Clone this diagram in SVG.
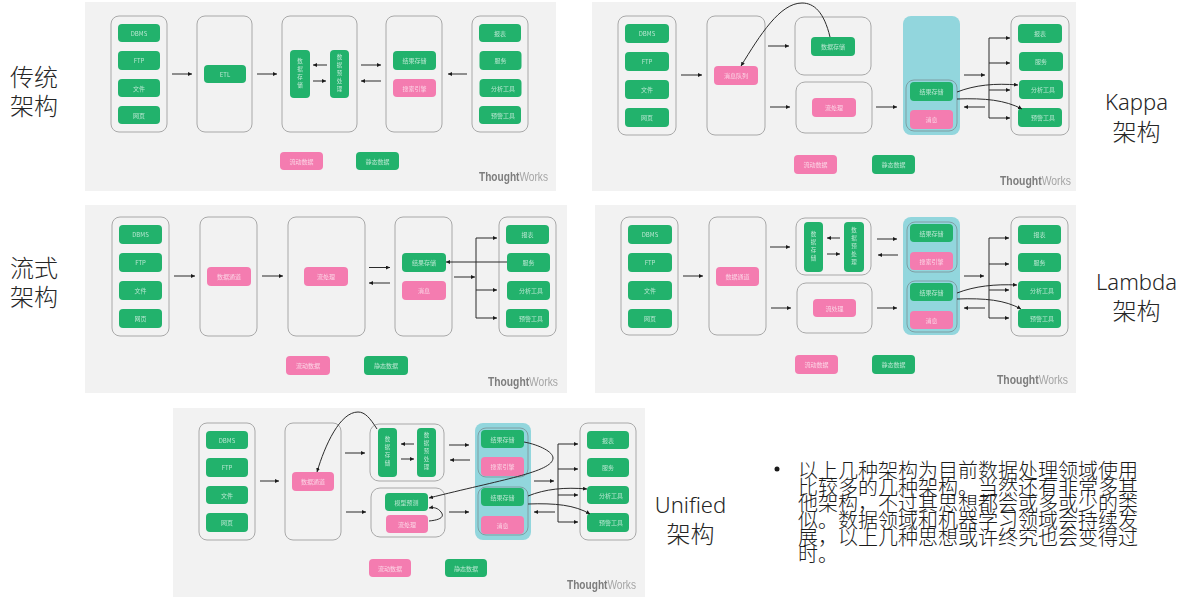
<svg xmlns="http://www.w3.org/2000/svg" width="1184" height="604" viewBox="0 0 1184 604">
<style>
text{font-family:"Noto Sans CJK SC","Liberation Sans",sans-serif}
.bg{fill:#f2f2f2}
.box{fill:#f2f2f2;stroke:#a8a8a8;stroke-width:1}
.teal{fill:#92d6dd}
.inner{fill:none;stroke:#7f9ea3;stroke-width:1}
.g{fill:#21b26c}
.p{fill:#f47cb0}
.pn{filter:url(#soft)}
.t{font-size:6px;fill:#fff;fill-opacity:.68;text-anchor:middle;dominant-baseline:central}
.v{font-size:5.5px;fill:#fff;fill-opacity:.72;writing-mode:vertical-rl;text-anchor:middle;letter-spacing:2.5px}
.big{font-size:24px;fill:#262626;text-anchor:middle;dominant-baseline:central;font-weight:300}
.lat{font-family:"Noto Sans","Liberation Sans",sans-serif;font-size:22px;fill:#262626;text-anchor:middle;dominant-baseline:central;font-weight:300}
.body{font-size:20px;fill:#1a1a1a;font-weight:300}
.tw{font-family:"Liberation Sans",sans-serif;font-size:12.5px;font-weight:700;fill:#7d7d7d}
.tw tspan{font-weight:400;fill:#a5a5a5}
#connectors path{fill:none;stroke:#2b2b2b;stroke-width:1}
#connectors .a{marker-end:url(#ah)}
</style>
<defs><filter id="soft" x="-2%" y="-2%" width="104%" height="104%"><feGaussianBlur stdDeviation="0.35"/></filter><marker id="ah" markerWidth="5" markerHeight="5" refX="4" refY="2" orient="auto" markerUnits="userSpaceOnUse"><path d="M0 0L4 2L0 4Z" fill="#1a1a1a"/></marker></defs>
<rect width="1184" height="604" fill="#fff"/>
<rect class="bg" x="85" y="2" width="471" height="189"/>
<rect class="bg" x="592" y="2" width="484" height="189"/>
<rect class="bg" x="85" y="205" width="482" height="188"/>
<rect class="bg" x="595" y="205" width="481" height="188"/>
<rect class="bg" x="173" y="408" width="472" height="189"/>

<g id="p1" class="pn">
<g id="p1-src"><rect class="box" x="111" y="16" width="56" height="116" rx="8"/></g>
<g id="p1-etlbox"><rect class="box" x="197" y="16" width="55" height="116" rx="8"/></g>
<g id="p1-proc"><rect class="box" x="282" y="16" width="75" height="116" rx="8"/></g>
<g id="p1-res"><rect class="box" x="386" y="16" width="56" height="116" rx="8"/></g>
<g id="p1-out"><rect class="box" x="472" y="16" width="56" height="116" rx="8"/></g>
<g id="p1-dbms"><rect class="g" x="118" y="24" width="42" height="18" rx="4"/><text class="t" x="139" y="33" >DBMS</text></g>
<g id="p1-ftp"><rect class="g" x="118" y="51" width="42" height="19" rx="4"/><text class="t" x="139" y="60.500">FTP</text></g>
<g id="p1-file"><rect class="g" x="118" y="79" width="42" height="18" rx="4"/><text class="t" x="139" y="88">文件</text></g>
<g id="p1-web"><rect class="g" x="118" y="106" width="42" height="18" rx="4"/><text class="t" x="139" y="115">网页</text></g>
<g id="p1-etl"><rect class="g" x="204" y="65" width="42" height="18" rx="4"/><text class="t" x="225" y="74">ETL</text></g>
<g id="p1-store"><rect class="g" x="290" y="50" width="20" height="48" rx="4"/><text class="v" x="300" y="74">数据存储</text></g>
<g id="p1-pre"><rect class="g" x="330" y="50" width="19" height="48" rx="4"/><text class="v" x="339.500" y="74">数据预处理</text></g>
<g id="p1-result"><rect class="g" x="393" y="51" width="43" height="19" rx="4"/><text class="t" x="414.500" y="60.500">结果存储</text></g>
<g id="p1-search"><rect class="p" x="393" y="79" width="43" height="18" rx="4"/><text class="t" x="414.500" y="88">搜索引擎</text></g>
<g id="p1-report"><rect class="g" x="479" y="24" width="42" height="18" rx="4"/><text class="t" x="500" y="33">报表</text></g>
<g id="p1-service"><rect class="g" x="479.500" y="51" width="42" height="19" rx="4"/><text class="t" x="500.500" y="60.500">服务</text></g>
<g id="p1-analysis"><rect class="g" x="479.500" y="79" width="42" height="18" rx="4"/><text class="t" x="503" y="88">分析工具</text></g>
<g id="p1-alert"><rect class="g" x="479" y="106" width="42" height="18" rx="4"/><text class="t" x="503" y="115">预警工具</text></g>
<g id="p1-flow"><rect class="p" x="280" y="152" width="43" height="18" rx="4"/><text class="t" x="301.500" y="161">流动数据</text></g>
<g id="p1-static"><rect class="g" x="356" y="152" width="43" height="18" rx="4"/><text class="t" x="377.500" y="161">静态数据</text></g>
<text class="tw" x="479" y="181" textLength="69" lengthAdjust="spacingAndGlyphs">Thought<tspan>Works</tspan></text>
</g>

<g id="p2" class="pn">
<g id="p2-src"><rect class="box" x="618" y="16" width="58" height="119" rx="8"/></g>
<g id="p2-queuebox"><rect class="box" x="707" y="16" width="58" height="119" rx="8"/></g>
<g id="p2-storebox"><rect class="box" x="795" y="17" width="76" height="58" rx="9"/></g>
<g id="p2-streambox"><rect class="box" x="796" y="82" width="76" height="51" rx="9"/></g>
<g id="p2-teal"><rect class="teal" x="903" y="16" width="57" height="119" rx="8"/><rect class="inner" x="906" y="80" width="51" height="51" rx="8"/></g>
<g id="p2-out"><rect class="box" x="1011" y="16" width="58" height="119" rx="8"/></g>
<g id="p2-dbms"><rect class="g" x="625" y="24" width="44" height="19" rx="4"/><text class="t" x="647" y="33.500">DBMS</text></g>
<g id="p2-ftp"><rect class="g" x="625" y="52" width="44" height="19" rx="4"/><text class="t" x="647" y="61.500">FTP</text></g>
<g id="p2-file"><rect class="g" x="625" y="80" width="44" height="19" rx="4"/><text class="t" x="647" y="89.500">文件</text></g>
<g id="p2-web"><rect class="g" x="625" y="108" width="44" height="19" rx="4"/><text class="t" x="647" y="117.500">网页</text></g>
<g id="p2-queue"><rect class="p" x="714" y="66" width="44" height="19" rx="4"/><text class="t" x="736" y="75.500">消息队列</text></g>
<g id="p2-store"><rect class="g" x="811" y="37" width="44" height="19" rx="4"/><text class="t" x="833" y="46.500">数据存储</text></g>
<g id="p2-stream"><rect class="p" x="812" y="98" width="44" height="19" rx="4"/><text class="t" x="834" y="107.500">流处理</text></g>
<g id="p2-result"><rect class="g" x="910" y="82" width="43" height="19" rx="4"/><text class="t" x="931.500" y="91.500">结果存储</text></g>
<g id="p2-msg"><rect class="p" x="910" y="110" width="43" height="19" rx="4"/><text class="t" x="931.500" y="119.500">消息</text></g>
<g id="p2-report"><rect class="g" x="1018" y="24" width="44" height="19" rx="4"/><text class="t" x="1040" y="33.500">报表</text></g>
<g id="p2-service"><rect class="g" x="1019" y="52" width="44" height="19" rx="4"/><text class="t" x="1041" y="61.500">服务</text></g>
<g id="p2-analysis"><rect class="g" x="1019" y="80" width="44" height="19" rx="4"/><text class="t" x="1043" y="89.500">分析工具</text></g>
<g id="p2-alert"><rect class="g" x="1018" y="108" width="44" height="19" rx="4"/><text class="t" x="1043" y="117.500">预警工具</text></g>
<g id="p2-flow"><rect class="p" x="794" y="155" width="43" height="19" rx="4"/><text class="t" x="815.500" y="164.500">流动数据</text></g>
<g id="p2-static"><rect class="g" x="872" y="155" width="43" height="19" rx="4"/><text class="t" x="893.500" y="164.500">静态数据</text></g>
<text class="tw" x="1000" y="185" textLength="71" lengthAdjust="spacingAndGlyphs">Thought<tspan>Works</tspan></text>
</g>

<g id="p3" class="pn">
<g id="p3-src"><rect class="box" x="112" y="217" width="57" height="119" rx="8"/></g>
<g id="p3-chanbox"><rect class="box" x="200" y="217" width="57" height="119" rx="8"/></g>
<g id="p3-streambox"><rect class="box" x="288" y="217" width="77" height="119" rx="8"/></g>
<g id="p3-res"><rect class="box" x="395" y="217" width="57" height="119" rx="8"/></g>
<g id="p3-out"><rect class="box" x="499" y="217" width="57" height="119" rx="8"/></g>
<g id="p3-dbms"><rect class="g" x="119" y="225" width="43" height="19" rx="4"/><text class="t" x="140.500" y="234.500">DBMS</text></g>
<g id="p3-ftp"><rect class="g" x="119" y="253" width="43" height="19" rx="4"/><text class="t" x="140.500" y="262.500">FTP</text></g>
<g id="p3-file"><rect class="g" x="119" y="281" width="43" height="19" rx="4"/><text class="t" x="140.500" y="290.500">文件</text></g>
<g id="p3-web"><rect class="g" x="119" y="309" width="43" height="19" rx="4"/><text class="t" x="140.500" y="318.500">网页</text></g>
<g id="p3-chan"><rect class="p" x="207" y="267" width="44" height="19" rx="4"/><text class="t" x="229" y="276.500">数据通道</text></g>
<g id="p3-stream"><rect class="p" x="304" y="267" width="44" height="19" rx="4"/><text class="t" x="326" y="276.500">流处理</text></g>
<g id="p3-result"><rect class="g" x="402" y="253" width="44" height="19" rx="4"/><text class="t" x="424" y="262.500">结果存储</text></g>
<g id="p3-msg"><rect class="p" x="402" y="281" width="44" height="19" rx="4"/><text class="t" x="424" y="290.500">消息</text></g>
<g id="p3-report"><rect class="g" x="506" y="225" width="43" height="19" rx="4"/><text class="t" x="527.500" y="234.500">报表</text></g>
<g id="p3-service"><rect class="g" x="507" y="253" width="43" height="19" rx="4"/><text class="t" x="528.500" y="262.500">服务</text></g>
<g id="p3-analysis"><rect class="g" x="507" y="281" width="43" height="19" rx="4"/><text class="t" x="531" y="290.500">分析工具</text></g>
<g id="p3-alert"><rect class="g" x="506" y="309" width="43" height="19" rx="4"/><text class="t" x="531" y="318.500">预警工具</text></g>
<g id="p3-flow"><rect class="p" x="286" y="356" width="44" height="19" rx="4"/><text class="t" x="308" y="365.500">流动数据</text></g>
<g id="p3-static"><rect class="g" x="364" y="356" width="44" height="19" rx="4"/><text class="t" x="386" y="365.500">静态数据</text></g>
<text class="tw" x="488" y="386" textLength="70" lengthAdjust="spacingAndGlyphs">Thought<tspan>Works</tspan></text>
</g>

<g id="p4" class="pn">
<g id="p4-src"><rect class="box" x="621" y="217" width="57" height="118" rx="8"/></g>
<g id="p4-chanbox"><rect class="box" x="709" y="217" width="57" height="118" rx="8"/></g>
<g id="p4-batchbox"><rect class="box" x="796" y="218" width="75" height="57" rx="9"/></g>
<g id="p4-streambox"><rect class="box" x="797" y="283" width="75" height="50" rx="9"/></g>
<g id="p4-teal"><rect class="teal" x="903" y="217" width="57" height="118" rx="8"/><rect class="inner" x="907" y="222" width="50" height="50" rx="8"/><rect class="inner" x="907" y="281" width="50" height="51" rx="8"/></g>
<g id="p4-out"><rect class="box" x="1011" y="217" width="57" height="119" rx="8"/></g>
<g id="p4-dbms"><rect class="g" x="628" y="225" width="44" height="19" rx="4"/><text class="t" x="650" y="234.500">DBMS</text></g>
<g id="p4-ftp"><rect class="g" x="628" y="253" width="44" height="19" rx="4"/><text class="t" x="650" y="262.500">FTP</text></g>
<g id="p4-file"><rect class="g" x="628" y="281" width="44" height="19" rx="4"/><text class="t" x="650" y="290.500">文件</text></g>
<g id="p4-web"><rect class="g" x="628" y="309" width="44" height="19" rx="4"/><text class="t" x="650" y="318.500">网页</text></g>
<g id="p4-chan"><rect class="p" x="716" y="267" width="43" height="19" rx="4"/><text class="t" x="737.500" y="276.500">数据通道</text></g>
<g id="p4-store"><rect class="g" x="804" y="222" width="19" height="50" rx="4"/><text class="v" x="813.500" y="247">数据存储</text></g>
<g id="p4-pre"><rect class="g" x="844" y="222" width="20" height="50" rx="4"/><text class="v" x="854" y="247">数据预处理</text></g>
<g id="p4-stream"><rect class="p" x="813" y="299" width="43" height="18" rx="4"/><text class="t" x="834.500" y="308">流处理</text></g>
<g id="p4-result1"><rect class="g" x="910" y="224" width="43" height="18" rx="4"/><text class="t" x="931.500" y="233">结果存储</text></g>
<g id="p4-search"><rect class="p" x="910" y="252" width="43" height="18" rx="4"/><text class="t" x="931.500" y="261">搜索引擎</text></g>
<g id="p4-result2"><rect class="g" x="910" y="283" width="43" height="18" rx="4"/><text class="t" x="931.500" y="292">结果存储</text></g>
<g id="p4-msg"><rect class="p" x="910" y="311" width="43" height="18" rx="4"/><text class="t" x="931.500" y="320">消息</text></g>
<g id="p4-report"><rect class="g" x="1018" y="225" width="43" height="19" rx="4"/><text class="t" x="1039.500" y="234.500">报表</text></g>
<g id="p4-service"><rect class="g" x="1018" y="253" width="43" height="19" rx="4"/><text class="t" x="1039.500" y="262.500">服务</text></g>
<g id="p4-analysis"><rect class="g" x="1018" y="281" width="43" height="19" rx="4"/><text class="t" x="1042" y="290.500">分析工具</text></g>
<g id="p4-alert"><rect class="g" x="1018" y="309" width="43" height="19" rx="4"/><text class="t" x="1042" y="318.500">预警工具</text></g>
<g id="p4-flow"><rect class="p" x="795" y="355" width="43" height="19" rx="4"/><text class="t" x="816.500" y="364.500">流动数据</text></g>
<g id="p4-static"><rect class="g" x="872" y="355" width="43" height="19" rx="4"/><text class="t" x="893.500" y="364.500">静态数据</text></g>
<text class="tw" x="997" y="384" textLength="71" lengthAdjust="spacingAndGlyphs">Thought<tspan>Works</tspan></text>
</g>

<g id="p5" class="pn">
<g id="p5-src"><rect class="box" x="199" y="423" width="56" height="117" rx="8"/></g>
<g id="p5-chanbox"><rect class="box" x="285" y="423" width="56" height="117" rx="8"/></g>
<g id="p5-batchbox"><rect class="box" x="370" y="424" width="74" height="57" rx="9"/></g>
<g id="p5-streambox"><rect class="box" x="371" y="488" width="74" height="49" rx="9"/></g>
<g id="p5-teal"><rect class="teal" x="475" y="423" width="56" height="117" rx="8"/><rect class="inner" x="478" y="428" width="50" height="49" rx="8"/><rect class="inner" x="478" y="487" width="50" height="48" rx="8"/></g>
<g id="p5-out"><rect class="box" x="580" y="423" width="56" height="117" rx="8"/></g>
<g id="p5-dbms"><rect class="g" x="206" y="431" width="42" height="18" rx="4"/><text class="t" x="227" y="440">DBMS</text></g>
<g id="p5-ftp"><rect class="g" x="206" y="458" width="42" height="19" rx="4"/><text class="t" x="227" y="467.500">FTP</text></g>
<g id="p5-file"><rect class="g" x="206" y="486" width="42" height="18" rx="4"/><text class="t" x="227" y="495">文件</text></g>
<g id="p5-web"><rect class="g" x="206" y="513" width="42" height="19" rx="4"/><text class="t" x="227" y="522.500">网页</text></g>
<g id="p5-chan"><rect class="p" x="292" y="472" width="42" height="19" rx="4"/><text class="t" x="313" y="481.500">数据通道</text></g>
<g id="p5-store"><rect class="g" x="378" y="428" width="19" height="49" rx="4"/><text class="v" x="387.500" y="452.500">数据存储</text></g>
<g id="p5-pre"><rect class="g" x="417" y="428" width="19" height="49" rx="4"/><text class="v" x="426.500" y="452.500">数据预处理</text></g>
<g id="p5-model"><rect class="g" x="385" y="493" width="43" height="18" rx="4"/><text class="t" x="406.500" y="502">模型预测</text></g>
<g id="p5-stream"><rect class="p" x="386" y="515" width="42" height="18" rx="4"/><text class="t" x="407" y="524">流处理</text></g>
<g id="p5-result1"><rect class="g" x="481" y="430" width="43" height="18" rx="4"/><text class="t" x="502.500" y="439">结果存储</text></g>
<g id="p5-search"><rect class="p" x="481" y="457" width="43" height="19" rx="4"/><text class="t" x="502.500" y="466.500">搜索引擎</text></g>
<g id="p5-result2"><rect class="g" x="481" y="488" width="43" height="18" rx="4"/><text class="t" x="502.500" y="497">结果存储</text></g>
<g id="p5-msg"><rect class="p" x="481" y="516" width="43" height="18" rx="4"/><text class="t" x="502.500" y="525">消息</text></g>
<g id="p5-report"><rect class="g" x="587" y="431" width="42" height="18" rx="4"/><text class="t" x="608" y="440">报表</text></g>
<g id="p5-service"><rect class="g" x="587" y="458" width="42" height="19" rx="4"/><text class="t" x="608" y="467.500">服务</text></g>
<g id="p5-analysis"><rect class="g" x="587" y="486" width="42" height="18" rx="4"/><text class="t" x="611" y="495">分析工具</text></g>
<g id="p5-alert"><rect class="g" x="587" y="513" width="42" height="19" rx="4"/><text class="t" x="611" y="522.500">预警工具</text></g>
<g id="p5-flow"><rect class="p" x="369" y="559" width="42" height="18" rx="4"/><text class="t" x="390" y="568">流动数据</text></g>
<g id="p5-static"><rect class="g" x="445" y="559" width="42" height="18" rx="4"/><text class="t" x="466" y="568">静态数据</text></g>
<text class="tw" x="567" y="589" textLength="69" lengthAdjust="spacingAndGlyphs">Thought<tspan>Works</tspan></text>
</g>

<g id="connectors">
<path class="a" d="M172 74H192"/><path class="a" d="M257 74H277"/><path class="a" d="M327 65H313"/><path class="a" d="M313 81H326"/><path class="a" d="M361 65H381"/><path class="a" d="M381 81H361"/><path class="a" d="M467 74H448"/>

<path class="a" d="M681 75H702"/><path class="a" d="M768 46H789"/><path class="a" d="M770 107H790"/><path class="a" d="M876 107H897"/><path class="a" d="M964 75H985"/><path class="a" d="M985 107H964"/>
<path d="M989 38V118"/><path class="a" d="M989 38H1010"/><path class="a" d="M989 63H1010"/><path class="a" d="M989 90H1010"/><path class="a" d="M989 118H1010"/>
<path class="a" d="M830 37C824 12 814 3 802 3C780 3 760 35 741 66"/>
<path class="a" d="M957 92C975 85 995 83 1018 85"/><path class="a" d="M957 99C985 98 1005 100 1022 109"/>

<path class="a" d="M174 276H195"/><path class="a" d="M262 276H283"/><path class="a" d="M369 267.500H390"/><path class="a" d="M390 283H369"/><path class="a" d="M454 277H475"/>
<path d="M476 238V318"/><path class="a" d="M476 238H497"/><path class="a" d="M476 290H497"/><path class="a" d="M476 318H497"/><path class="a" d="M507 262H446"/>

<path class="a" d="M683 276H703"/><path class="a" d="M770 247H790"/><path class="a" d="M771 308H791"/><path class="a" d="M877 308H897"/><path class="a" d="M877 239H897"/><path class="a" d="M898 255H878"/><path class="a" d="M840 238H827"/><path class="a" d="M827 254H840"/><path class="a" d="M964 276H984"/><path class="a" d="M985 308H964"/>
<path d="M989 238V318"/><path class="a" d="M989 238H1009"/><path class="a" d="M989 264H1009"/><path class="a" d="M989 290H1009"/><path class="a" d="M989 318H1009"/>
<path class="a" d="M957 293C975 286 995 284 1017 285"/><path class="a" d="M957 299C985 298 1005 300 1021 309"/>

<path class="a" d="M260 481H279"/><path class="a" d="M345 453H365"/><path class="a" d="M346 512H366"/><path class="a" d="M449 445H469"/><path class="a" d="M470 460H450"/><path class="a" d="M449 512H469"/><path class="a" d="M534 481H554"/><path class="a" d="M555 512H534"/><path class="a" d="M414 444H401"/><path class="a" d="M401 459H414"/>
<path d="M558 444V522"/><path class="a" d="M558 444H578"/><path class="a" d="M558 469H578"/><path class="a" d="M558 495H578"/><path class="a" d="M558 522H578"/>
<path class="a" d="M524 442C540 445 553 452 553 458C553 472 500 480 429 498"/>
<path class="a" d="M377 429C370 418 365 412 358 412C340 412 325 445 317 472"/>
<path class="a" d="M429 521C440 520 445 517 441 512C438 508 434 507 429 508"/>
<path class="a" d="M528 496C545 489 565 487 587 489"/><path class="a" d="M528 504C555 503 575 505 590 514"/>
</g>

<g id="labels">
<text class="big" x="34" y="75">传统</text><text class="big" x="34" y="104">架构</text>
<text class="big" x="34" y="266">流式</text><text class="big" x="34" y="295">架构</text>
<text class="lat" x="1136.500" y="101">Kappa</text><text class="big" x="1136.500" y="130">架构</text>
<text class="lat" x="1136.500" y="281">Lambda</text><text class="big" x="1136.500" y="309">架构</text>
<text class="lat" x="690.500" y="504">Unified</text><text class="big" x="690.500" y="532">架构</text>
</g>

<g id="note">
<circle cx="777" cy="469" r="2.500" fill="#1a1a1a"/>
<text class="body"><tspan x="798" y="478">以上几种架构为目前数据处理领域使用</tspan><tspan x="798" y="495">比较多的几种架构。当然还有非常多其</tspan><tspan x="798" y="511">他架构，不过其思想都会或多或少的类</tspan><tspan x="798" y="528">似。数据领域和机器学习领域会持续发</tspan><tspan x="798" y="545">展，以上几种思想或许终究也会变得过</tspan><tspan x="798" y="562">时。</tspan></text>
</g>
</svg>
